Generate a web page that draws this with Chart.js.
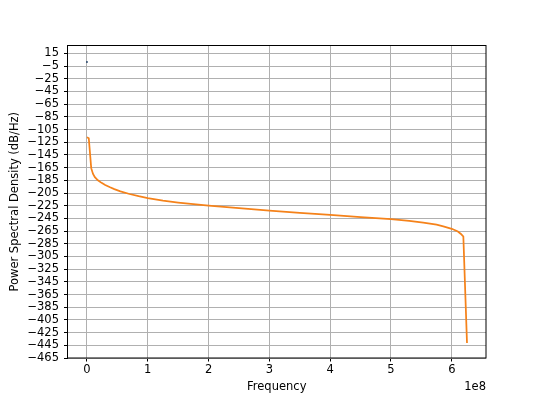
<!DOCTYPE html>
<html><head><meta charset="utf-8">
<script src="https://cdn.jsdelivr.net/npm/chart.js@4.4.1/dist/chart.umd.min.js"></script>
<style>html,body{margin:0;padding:0;background:#fff;} canvas{display:block;}</style>
</head><body>
<canvas id="c" width="540" height="402"></canvas>
<script>
// Frequency (Hz) of the PSD curve
const frequencies = [0, 0.03e8, 0.07e8, 0.1e8, 0.13e8, 0.18e8, 0.24e8, 0.3e8, 0.38e8, 0.45e8, 0.55e8, 0.7e8, 0.85e8, 1.0e8, 1.25e8, 1.5e8, 1.75e8, 2.0e8, 2.5e8, 3.0e8, 3.5e8, 4.0e8, 4.5e8, 5.0e8, 5.3e8, 5.53e8, 5.75e8, 5.86e8, 6.0e8, 6.1e8, 6.15e8, 6.18e8, 6.19e8, 6.25e8];
// Power spectral density (dB/Hz)
const psdValues = [-117, -118.6, -165.8, -175, -180, -185, -189, -192.3, -196, -198.8, -202.3, -206.5, -210, -213, -217, -220, -222.5, -224.7, -228.9, -232.6, -236.2, -239.6, -242.8, -246.1, -248.8, -251.5, -254.8, -257.6, -261.4, -265.7, -269.5, -272.5, -273.5, -441.4];
// Isolated DC point
const dcFrequency = [0];
const dcValue = [1.6];
// Tick values
const xTickValues = [0, 1e8, 2e8, 3e8, 4e8, 5e8, 6e8];
const yTickValues = [15, -5, -25, -45, -65, -85, -105, -125, -145, -165, -185, -205, -225, -245, -265, -285, -305, -325, -345, -365, -385, -405, -425, -445, -465];
const xLabel = 'Frequency';
const yLabel = 'Power Spectral Density (dB/Hz)';
const xOffsetText = '1e8';

const FONT = 'DejaVu Sans';
const FS = 11.5;
Chart.defaults.color = '#000';
Chart.defaults.font.family = FONT;
Chart.defaults.font.size = FS;

const framePlugin = {
  id: 'frame',
  afterDraw(chart) {
    const {ctx, chartArea: a} = chart;
    ctx.save();
    ctx.strokeStyle = '#000';
    ctx.lineWidth = 1;
    ctx.strokeRect(a.left, a.top, a.right - a.left, a.bottom - a.top);
    ctx.fillStyle = '#000';
    ctx.font = FS + 'px "' + FONT + '"';
    ctx.textAlign = 'right';
    ctx.textBaseline = 'alphabetic';
    ctx.fillText(xOffsetText, a.right, 390);
    ctx.restore();
  }
};

const minusFmt = v => (v < 0 ? '\u2212' : '') + Math.abs(v);

new Chart(document.getElementById('c'), {
  type: 'scatter',
  data: {
    datasets: [
      {
        data: dcFrequency.map((f, i) => ({x: f, y: dcValue[i]})),
        pointRadius: 1, pointBackgroundColor: '#2b4a6e', pointBorderWidth: 0,
        showLine: false
      },
      {
        data: frequencies.map((f, i) => ({x: f, y: psdValues[i]})),
        showLine: true, pointRadius: 0, borderColor: '#f5821a', borderWidth: 1.75,
        tension: 0
      }
    ]
  },
  options: {
    responsive: false,
    animation: false,
    events: [],
    layout: {padding: {left: 0, top: 45.5, right: 54, bottom: 0}},
    plugins: {legend: {display: false}, tooltip: {enabled: false}},
    scales: {
      x: {
        type: 'linear', min: -0.32e8, max: 6.5625e8,
        afterBuildTicks: s => { s.ticks = xTickValues.map(v => ({value: v})); },
        afterFit: s => { s.height = 44; },
        ticks: {autoSkip: false, maxRotation: 0, padding: 2, callback: v => String(Math.round(v / 1e8))},
        grid: {color: '#b0b0b0', lineWidth: 1, tickColor: '#000', tickLength: 3.5, tickWidth: 1},
        border: {display: false},
        title: {display: true, text: xLabel, padding: {top: 0, bottom: 8}}
      },
      y: {
        type: 'linear', min: -465, max: 27.5,
        afterBuildTicks: s => { s.ticks = yTickValues.map(v => ({value: v})); },
        afterFit: s => { s.width = 67.5; },
        ticks: {autoSkip: false, padding: 5, callback: minusFmt},
        grid: {color: '#b0b0b0', lineWidth: 1, tickColor: '#000', tickLength: 3.5, tickWidth: 1},
        border: {display: false},
        title: {display: true, text: yLabel, padding: {top: 8.5, bottom: 0}}
      }
    }
  },
  plugins: [framePlugin]
});
</script>
</body></html>
